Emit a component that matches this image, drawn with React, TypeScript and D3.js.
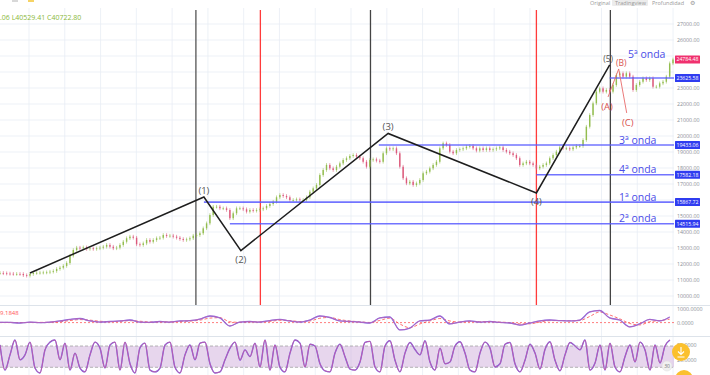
import React from "react";
import * as d3 from "d3";

// ---------- DATA ----------
const closes: number[] = [
  11440, 11420, 11400, 11390, 11380, 11380, 11375, 11300, 11270, 11375, 11440, 11450, 11460, 11470, 11480, 11520, 11560, 11690, 11770, 11880, 12060,
  12520, 12875, 13020, 12980, 13040, 12940, 12980, 12940, 12980, 13020,
  13080, 13190, 13080, 12980, 13020, 13190, 13390, 13610, 13710, 13640,
  13230, 13190, 13290, 13500, 13390, 13500, 13610, 13640, 13810, 13750,
  13770, 13710, 13640, 13560, 13500, 13540, 13610, 13770, 13810, 13920,
  14230, 14540, 15060, 15580, 15580, 15480, 15480, 15375, 14860, 15170,
  15480, 15480, 15420, 15270, 15375, 15330, 15375, 15420, 15480, 15625,
  15750, 15890, 16170, 16310, 16250, 16170, 16000, 16000, 16040, 16000,
  16000, 16170, 16520, 16730, 16940, 17560, 17875, 18190, 17980, 17875,
  18080, 18290, 18500, 18610, 18750, 18810, 18710, 18610, 18390, 18080,
  18500, 18540, 18460, 18390, 18920, 19230, 19170, 19230, 18920, 18080,
  17360, 17040, 17140, 16940, 17040, 17250, 17670, 17770, 17980, 18190,
  18390, 19230, 19540, 19440, 19020, 18920, 19125, 19170, 19230, 19330,
  19375, 19230, 19090, 19230, 19125, 19230, 19125, 19170, 19230, 19290,
  19125, 19020, 18920, 18810, 18610, 18190, 18290, 18390, 18290, 18190,
  17980, 18080, 18190, 18290, 18610, 18810, 19020, 19290, 19230, 19230,
  19170, 19290, 19375, 19375, 19750, 20580, 21310, 22040, 22770, 22980,
  22770, 22875, 22770, 23190, 23810, 23920, 23710, 23920, 23710, 22875,
  23190, 23390, 23610, 23500, 23610, 23080, 23080, 23290, 23390, 23710,
  24540, 24784,
];

const priceTicks: number[] = d3.range(10000, 28000, 1000);

// Elliott wave points: [bar index, price]
const waveIdx: number[] = [9, 61.2, 72.3, 116.5, 161, 183];
const wavePrice: number[] = [11440, 16190, 12840, 20160, 16440, 24450];
const waveLabels: string[] = ["", "(1)", "(2)", "(3)", "(4)", "(5)"];
const waveLabelPos: string[] = ["", "above", "below", "above", "below", "above"];

// Corrective ABC
const abcIdx: number[] = [182.5, 185.7, 188.1];
const abcPrice: number[] = [22440, 24190, 21440];
const abcLabels: string[] = ["(A)", "(B)", "(C)"];

// Vertical lines
const vLineIdx: number[] = [58.8, 78.15, 111.2, 161, 183.2];
const vLineColor: string[] = ["#555", "#ff3b3b", "#444", "#ff3b3b", "#444"];

// Horizontal levels
const levelPrice: number[] = [23625.58, 19433.06, 17582.18, 15867.72, 14515.94];
const levelStartIdx: number[] = [183, 113.7, 161, 61.2, 69];
const levelText: string[] = ["5ª onda", "3ª onda", "4ª onda", "1ª onda", "2ª onda"];
const levelTextPrice: number[] = [24850, 19500, 17700, 15950, 14650];
const lastPrice = 24784.48;

// Indicator 1 (oscillator around zero), every 3 bars
const osc: number[] = [
  20, 10, -30, 40, 0, 40, 120, 230, 300, 120, 40, 80, 120, 190, 40, 10, 80, 40, 120, 150,
  260, 485, 340, -250, 40, 80, 40, 150, 230, 120, 40, 190, 485, 375, 120, 80, 40, -30, 340, 410,
  -540, -400, 120, 190, 485, -100, 40, 120, 40, 80, 10, -30, -180, -30, 120, 190, 150, 120, 190, 780,
  890, 340, 190, -320, -100, 230, 120, 410,
];
const oscSignal: number[] = [
  10, 15, 0, 10, 15, 20, 60, 150, 220, 180, 100, 70, 90, 140, 100, 50, 50, 50, 80, 110,
  180, 330, 360, 60, 20, 50, 50, 90, 170, 150, 80, 120, 320, 380, 220, 120, 60, 10, 160, 330,
  -100, -380, -100, 120, 300, 120, 40, 80, 70, 70, 40, 0, -90, -90, 40, 140, 150, 130, 150, 450,
  780, 560, 280, -60, -170, 60, 150, 250,
];

// Indicator 2 (stochastic-like 0..100), every 1.5 bars
const stoch: number[] = [
  83, 12, 55, 97, 41, 55, 91, 18, 4, 69, 91, 97, 41, 88, 12, 60, 18, 7, 55, 91,
  74, 18, 83, 91, 12, 91, 30, 4, 75, 88, 12, 7, 18, 83, 91, 20, 4, 55, 83, 41,
  88, 91, 30, 4, 7, 41, 74, 91, 40, 69,
  50, 88, 21, 97, 12, 83, 20, 7, 60, 97, 88, 21, 85, 80, 30, 10, 7, 60, 85, 50,
  15, 12, 35, 90, 93, 21, 7, 80, 95, 40, 7, 60, 90, 70, 55, 95, 35, 12, 74, 30,
  35, 80, 92, 60, 12, 7, 60, 91, 74, 21,
  30, 85, 90, 30, 7, 40, 85, 60, 15, 70, 92, 40, 10, 55, 90, 80, 69, 97, 12, 32,
  83, 12, 88, 21, 7, 50, 83, 35, 91, 69, 12, 83, 32, 80, 97,
];

export default function App() {
  const W = 710, H = 375;
  const plotRight = 674;
  const N = closes.length;
  const x = d3.scaleLinear().domain([0, N - 1]).range([0, 673]);
  const y = d3.scaleLinear().domain([10000, 27000]).range([296, 24]);
  const yOsc = d3.scaleLinear().domain([0, 1000]).range([322.6, 309]);
  const ySt = d3.scaleLinear().domain([0, 100]).range([374.4, 338.9]);
  const xOsc = d3.scaleLinear().domain([0, osc.length - 1]).range([0, x(201)]);
  const xSt = d3.scaleLinear().domain([0, stoch.length - 1]).range([0, 670]);

  const gridX = d3.range(8.7, N + 5, 10.74).map((d) => x(d));

  const badgePrices = [...levelPrice, lastPrice];
  const visibleTicks = priceTicks.filter((t) => badgePrices.every((b) => Math.abs(y(t) - y(b)) > 6.5));

  const waveLine = d3.line<number>().x((_, i) => x(waveIdx[i])).y((d) => y(d));
  const abcLine = d3.line<number>().x((_, i) => x(abcIdx[i])).y((d) => y(d));
  const oscLine = d3.line<number>().x((_, i) => xOsc(i)).y((d) => yOsc(d)).curve(d3.curveMonotoneX);
  const sigLine = d3.line<number>().x((_, i) => xOsc(i)).y((d) => yOsc(d)).curve(d3.curveMonotoneX);
  const stLine = d3.line<number>().x((_, i) => xSt(i)).y((d) => ySt(d)).curve(d3.curveMonotoneX);

  const font = "'Open Sans', 'Noto Sans', sans-serif";
  const up = "#93bd4f";
  const down = "#dc5a7c";

  return (
    <svg width={W} height={H} style={{ position: "fixed", left: 0, top: 0, background: "#fff" }} fontFamily={font}>
      <defs>
        <clipPath id="pricePlot"><rect x={0} y={8} width={plotRight} height={297} /></clipPath>
      </defs>
      <rect x={0} y={0} width={W} height={H} fill="#fff" />
      {/* grid */}
      {gridX.map((gx, i) => (
        <line key={"gx" + i} x1={gx} x2={gx} y1={8} y2={H} stroke="#e8eef5" strokeWidth={0.8} />
      ))}
      {priceTicks.map((t) => (
        <line key={"gy" + t} x1={0} x2={plotRight} y1={y(t)} y2={y(t)} stroke="#e8eef5" strokeWidth={0.8} />
      ))}
      {/* panel separators */}
      <line x1={0} x2={W} y1={305.5} y2={305.5} stroke="#dde3ea" strokeWidth={1} />
      <line x1={0} x2={W} y1={336.5} y2={336.5} stroke="#dde3ea" strokeWidth={1} />

      {/* vertical markers */}
      {vLineIdx.map((v, i) => (
        <line key={"vl" + i} x1={x(v)} x2={x(v)} y1={10} y2={305} stroke={vLineColor[i]} strokeWidth={1.3} />
      ))}

      <g clipPath="url(#pricePlot)">
        {/* candles */}
        {closes.map((c, i) => {
          const o = i > 0 ? closes[i - 1] : c;
          const top = y(Math.max(o, c));
          const bot = y(Math.min(o, c));
          const col = c >= o ? up : down;
          return (
            <g key={"c" + i}>
              <line x1={x(i)} x2={x(i)} y1={top - 1.8} y2={bot + 1.8} stroke={col} strokeWidth={0.6} />
              <rect x={x(i) - 0.7} y={top} width={1.4} height={Math.max(0.8, bot - top)} fill={col} />
            </g>
          );
        })}

        {/* levels */}
        {levelPrice.map((p, i) => (
          <line key={"lv" + i} x1={x(levelStartIdx[i])} x2={plotRight + 2} y1={y(p)} y2={y(p)} stroke="#5a5cff" strokeWidth={1.6} opacity={0.85} />
        ))}
        {levelText.map((t, i) => (
          <text key={"lt" + i} x={i === 0 ? 628 : 619} y={y(levelTextPrice[i])} fontSize={10.5} fill="#4b4de8">{t}</text>
        ))}

        {/* wave */}
        <path d={waveLine(wavePrice) || ""} fill="none" stroke="#1e1e1e" strokeWidth={1.5} />
        {wavePrice.map((p, i) =>
          waveLabels[i] ? (
            <text key={"wl" + i} x={x(waveIdx[i]) - (i === 5 ? 1.5 : 0)} y={waveLabelPos[i] === "above" ? y(p) - 3 : y(p) + 12} textAnchor="middle" fontSize={i === 5 ? 8.5 : 9.5} fill="#555">
              {waveLabels[i]}
            </text>
          ) : null
        )}
        <path d={abcLine(abcPrice) || ""} fill="none" stroke="#e86a6a" strokeWidth={0.9} />
        {abcPrice.map((p, i) => (
          <text key={"ab" + i} x={x(abcIdx[i]) + (i === 0 ? -1 : i === 1 ? 2.5 : 1)} y={i === 1 ? y(p) - 3 : y(p) + 13} textAnchor="middle" fontSize={i === 1 ? 8.5 : 9.5} fill="#d9534f">
            {abcLabels[i]}
          </text>
        ))}
      </g>

      {/* right price axis */}
      {visibleTicks.map((t) => (
        <text key={"pt" + t} x={677} y={y(t) + 2} fontSize={5.3} fill="#8a8f96">{t.toFixed(2)}</text>
      ))}
      {levelPrice.map((p, i) => (
        <g key={"bd" + i}>
          <rect x={675} y={y(p) - 4} width={25} height={8} fill="#2f3cf0" rx={0.5} />
          <text x={687.5} y={y(p) + 1.9} fontSize={5.2} fill="#fff" textAnchor="middle">{p.toFixed(2)}</text>
        </g>
      ))}
      <rect x={675} y={y(lastPrice) - 4} width={25} height={8} fill="#f0306e" rx={0.5} />
      <text x={687.5} y={y(lastPrice) + 1.9} fontSize={5.2} fill="#fff" textAnchor="middle">{lastPrice.toFixed(2)}</text>

      {/* indicator 1 */}
      <line x1={0} x2={plotRight} y1={yOsc(0)} y2={yOsc(0)} stroke="#ff5a5a" strokeWidth={0.8} strokeDasharray="2,2" />
      <path d={sigLine(oscSignal) || ""} fill="none" stroke="#ff4d4d" strokeWidth={0.8} strokeDasharray="3,2" />
      <path d={oscLine(osc) || ""} fill="none" stroke="#7a6cf0" strokeWidth={1.3} />
      <path d={oscLine(osc) || ""} fill="none" stroke="#d9609a" strokeWidth={0.6} />
      <text x={0} y={315} fontSize={6} fill="#ff5555">9.1848</text>
      <text x={677} y={yOsc(1000) + 2} fontSize={5.3} fill="#8a8f96">1000.0000</text>
      <text x={677} y={yOsc(0) + 2} fontSize={5.3} fill="#8a8f96">0.0000</text>

      {/* indicator 2 */}
      <rect x={0} y={ySt(80)} width={plotRight} height={ySt(20) - ySt(80)} fill="#c9a3d8" opacity={0.45} />
      <line x1={0} x2={plotRight} y1={ySt(80)} y2={ySt(80)} stroke="#999" strokeWidth={0.7} strokeDasharray="3,2" />
      <line x1={0} x2={plotRight} y1={ySt(20)} y2={ySt(20)} stroke="#999" strokeWidth={0.7} strokeDasharray="3,2" />
      <path d={stLine(stoch) || ""} fill="none" stroke="#6f63f0" strokeWidth={1.4} />
      <path d={stLine(stoch) || ""} fill="none" stroke="#d45a95" strokeWidth={0.8} />
      <text x={677} y={ySt(80) + 1} fontSize={5.3} fill="#8a8f96">80.0000</text>
      <text x={677} y={ySt(20) - 5} fontSize={5.3} fill="#8a8f96">20.0000</text>

      {/* floating buttons */}
      <circle cx={681} cy={352} r={9} fill="#fbc02d" />
      <path d="M681,347 L681,354 M678,351.5 L681,354.5 L684,351.5 M677.5,357 L684.5,357" stroke="#fff" strokeWidth={1.1} fill="none" />
      <circle cx={667} cy={366} r={5} fill="#f1f1f1" stroke="#ddd" strokeWidth={0.5} />
      <text x={667} y={368} fontSize={5} fill="#777" textAnchor="middle">30</text>
      <circle cx={684} cy={379} r={9} fill="#fbc02d" />

      {/* header */}
      <text x={0} y={19.5} fontSize={7} fill="#8bb93a">.06   L40529.41   C40722.80</text>
      <rect x={12} y={-4} width={6} height={6} fill="#d8d8d8" />
      <rect x={28} y={-4} width={6} height={6} fill="#f6d365" />
      <text x={590} y={5} fontSize={5.5} fill="#9a9a9a">Original</text>
      <rect x={612} y={-4} width={36} height={10} fill="#ececec" rx={1} />
      <text x={615} y={5} fontSize={5.5} fill="#9a9a9a">Tradingview</text>
      <text x={652} y={5} fontSize={5.5} fill="#9a9a9a">Profundidad</text>
      <text x={690} y={5} fontSize={5.5} fill="#9a9a9a">⚙</text>
    </svg>
  );
}
